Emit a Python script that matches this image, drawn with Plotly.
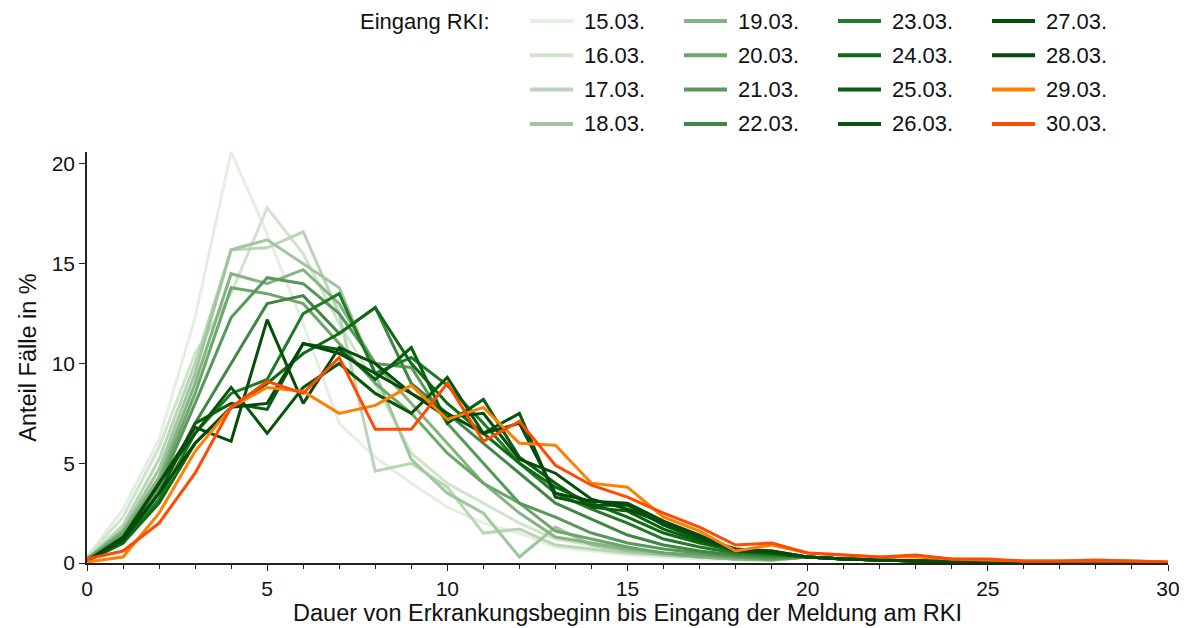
import plotly.graph_objects as go

days = list(range(31))
labels = ["15.03.","16.03.","17.03.","18.03.","19.03.","20.03.","21.03.","22.03.",
          "23.03.","24.03.","25.03.","26.03.","27.03.","28.03.","29.03.","30.03."]
colors = ["#e3efe0","#cfe3cd","#b8d6b6","#9fc69c","#85b383","#6da66b","#58985a","#408744",
          "#217a24","#0f6a14","#0a5e0f","#075509","#064c0a","#054a0a","#ff8000","#ff4a00"]
tail = [0.3,0.2,0.15,0.1,0.1,0.08,0.06,0.05,0.05,0.04,0.03]
s15 = [0.3,2.7,6.2,12.3,20.6,16.5,12.0,7.0,5.3,4.0,2.8,2.0,1.5,0.8,0.6,0.4,0.3,0.2,0.15,0.1]+tail
s16 = [0.3,2.3,5.8,10.5,13.5,17.8,15.5,12.0,9.0,5.5,4.0,3.0,2.0,1.2,0.9,0.6,0.4,0.3,0.2,0.15]+tail
s17 = [0.2,1.9,5.2,10.0,15.7,15.8,16.6,12.5,4.6,5.0,3.8,1.5,1.7,0.9,0.7,0.5,0.4,0.3,0.2,0.15]+tail
s18 = [0.2,1.7,4.7,9.5,15.7,16.2,15.0,13.8,9.5,5.2,3.5,2.5,0.3,1.8,0.9,0.6,0.4,0.3,0.2,0.15]+tail
s19 = [0.2,1.6,4.3,9.0,14.5,14.0,14.7,13.0,10.0,8.0,6.0,4.0,2.5,1.3,1.0,0.7,0.5,0.3,0.2,0.15]+tail
s20 = [0.2,1.5,4.0,8.5,13.8,13.5,13.0,11.0,9.0,7.5,5.5,4.0,3.0,1.6,1.2,0.8,0.5,0.4,0.3,0.2]+tail
s21 = [0.2,1.3,3.8,8.0,12.3,14.3,14.0,12.5,10.0,9.8,7.0,5.0,3.0,2.3,1.5,1.0,0.7,0.5,0.3,0.2]+tail
s22 = [0.1,1.2,3.5,7.0,10.0,13.0,13.4,11.5,12.8,9.0,7.5,6.0,4.5,3.0,2.2,1.4,0.9,0.6,0.4,0.3]+tail
s23 = [0.1,1.0,3.2,6.5,8.5,9.2,12.5,13.5,9.5,10.3,8.9,7.0,5.0,3.5,2.7,2.0,1.2,0.8,0.5,0.4]+tail
s24 = [0.1,1.0,3.0,6.0,7.8,9.0,10.5,11.5,12.8,10.0,8.0,6.5,5.0,3.8,3.0,2.3,1.5,1.0,0.6,0.5]+tail
s25 = [0.1,1.1,3.5,7.0,8.0,7.7,11.0,10.7,9.2,10.8,7.0,8.2,5.3,4.0,2.8,2.6,1.7,1.1,0.7,0.5]+tail
s26 = [0.1,1.2,4.0,6.5,8.8,6.5,8.8,10.0,8.5,7.5,9.3,6.5,7.5,3.3,2.9,2.9,1.9,1.2,0.6,0.5]+tail
s27 = [0.1,1.3,4.0,6.8,6.1,12.2,8.0,10.8,10.0,8.5,7.3,7.5,5.2,4.5,3.2,2.7,2.0,1.3,0.7,0.6]+tail
s28 = [0.1,1.2,3.5,6.0,7.8,8.0,11.0,10.5,9.5,8.5,7.5,6.5,7.0,3.5,3.1,3.0,2.1,1.4,0.6,0.6]+tail
s29 = [0.05,0.3,2.5,5.6,7.8,8.8,8.6,7.5,7.9,8.9,7.2,7.8,6.0,5.9,4.0,3.8,2.3,1.6,0.6,0.9,0.5,0.4,0.3,0.3,0.2,0.15,0.1,0.1,0.1,0.1,0.05]
s30 = [0.2,0.6,2.0,4.5,7.8,9.1,8.5,10.3,6.7,6.7,9.0,6.1,7.1,4.9,3.9,3.3,2.5,1.8,0.9,1.0,0.5,0.4,0.3,0.4,0.2,0.2,0.1,0.1,0.15,0.1,0.05]
series = [s15,s16,s17,s18,s19,s20,s21,s22,s23,s24,s25,s26,s27,s28,s29,s30]

OFF = 8  # page body margin
W, H = 1187, 628
L, R, T, B = 87 - OFF, 1195 - 1168, 152 - OFF, 636 - 563
pw, ph = W - L - R, H - T - B
def px(x): return (x - OFF - L) / pw
def py(y): return (H - B - (y - OFF)) / ph

fig = go.Figure()
for lab, col, s in zip(labels, colors, series):
    fig.add_trace(go.Scatter(x=days, y=s, mode="lines", name=lab,
                             line=dict(color=col, width=3), showlegend=False))

font = dict(family="Liberation Sans, Arial, sans-serif", size=21, color="#111")
tfont = dict(family="Liberation Sans, Arial, sans-serif", size=23.5, color="#111")
lfont = dict(family="Liberation Sans, Arial, sans-serif", size=22, color="#111")
fig.add_annotation(x=px(492), y=py(22), xref="paper", yref="paper", text="Eingang RKI:",
                   showarrow=False, xanchor="right", yanchor="middle", font=lfont)
colx = [530, 684, 838, 992]
for i, (lab, col) in enumerate(zip(labels, colors)):
    c, r = i // 4, i % 4
    yy = 21 + r * 34.3
    x0 = colx[c]
    fig.add_shape(type="line", xref="paper", yref="paper",
                  x0=px(x0), x1=px(x0 + 43), y0=py(yy), y1=py(yy),
                  line=dict(color=col, width=4))
    fig.add_annotation(x=px(x0 + 52), y=py(yy), xref="paper", yref="paper", text=lab,
                       showarrow=False, xanchor="left", yanchor="middle", font=lfont)

fig.update_layout(width=W, height=H, margin=dict(l=L, r=R, t=T, b=B, autoexpand=False),
                  plot_bgcolor="white", paper_bgcolor="white", font=font,
                  xaxis=dict(range=[0, 30], tickvals=[0,5,10,15,20,25,30], showgrid=False,
                             zeroline=False, showline=True, linecolor="#222", linewidth=1.5,
                             ticks="outside", ticklen=6, tickcolor="#222", automargin=False,
                             minor=dict(dtick=1, ticks="outside", ticklen=4, tickcolor="#222"),
                             title=dict(text="Dauer von Erkrankungsbeginn bis Eingang der Meldung am RKI",
                                        standoff=0, font=tfont)),
                  yaxis=dict(range=[0, 20.6], tickvals=[0,5,10,15,20], showgrid=False,
                             zeroline=False, showline=True, linecolor="#222", linewidth=1.5,
                             ticks="outside", ticklen=6, tickcolor="#222", automargin=False,
                             title=dict(text="Anteil Fälle in %", standoff=8, font=tfont)))
fig.write_html("out.html")
